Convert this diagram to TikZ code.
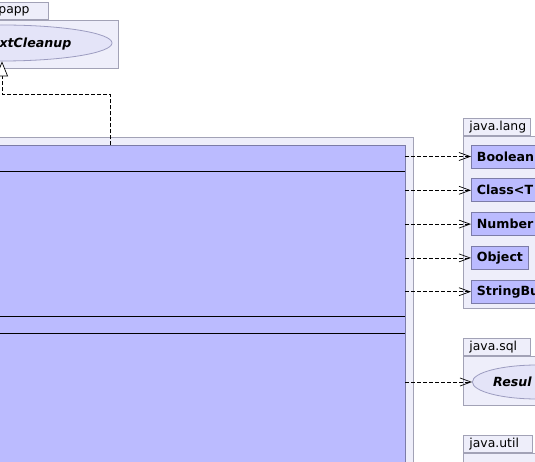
\documentclass[tikz,border=0pt]{standalone}
\usepackage{fontspec}
\setmainfont{DejaVu Sans}
\usetikzlibrary{arrows.meta,positioning,shapes.geometric,calc}

\definecolor{pkgfill}{HTML}{EEEEFA}
\definecolor{pkgline}{HTML}{A2A2B6}
\definecolor{classfill}{HTML}{BBBBFF}
\definecolor{classline}{HTML}{7C7CA8}
\definecolor{ifacefill}{HTML}{E4E4F8}
\definecolor{ifaceline}{HTML}{9C9CC0}

\begin{document}
\begin{tikzpicture}[
  x=1pt, y=-1pt,
  node distance=10pt,
  every node/.style={font=\fontsize{12.4}{14}\selectfont},
  pkgbody/.style={rectangle, draw=pkgline, fill=pkgfill, line width=0.8pt, inner sep=0pt},
  pkgtab/.style={rectangle, draw=pkgline, fill=pkgfill, line width=0.8pt, anchor=south west,
    minimum height=17pt, text width=55pt, align=left, inner xsep=6pt, inner ysep=0pt},
  classbox/.style={rectangle, draw=classline, fill=classfill, line width=0.8pt,
    font=\fontsize{12.6}{14}\selectfont\bfseries, minimum height=23pt, inner xsep=5.5pt, inner ysep=0pt},
  iface/.style={ellipse, draw=ifaceline, fill=ifacefill, line width=0.8pt, inner sep=0pt},
  ifacename/.style={font=\fontsize{12.6}{14}\selectfont\bfseries\itshape, inner sep=0pt},
  dep/.style={-{Straight Barb[length=11pt,width=8pt]}, dash pattern=on 4pt off 2pt, line width=0.7pt},
  real/.style={-{Triangle[length=15pt,width=12pt,fill=white]}, dash pattern=on 4pt off 2pt, line width=0.7pt}
]
\useasboundingbox (0,0) rectangle (535,462);

% package at the top left
\node[pkgbody, anchor=north east, minimum width=260, minimum height=48] (appbody) at (119,20) {};
\node[pkgtab, anchor=south east, text width=32pt, align=right, inner xsep=19pt] (apptab) at (49,20) {papp};
\node[iface, minimum width=220, minimum height=36] (cleanup) at (2,43) {};
\node[ifacename, anchor=base east] (cleanupname) at (71.5,48) {xtCleanup};

% package holding the main class
\node[pkgbody, anchor=north east, minimum width=520, minimum height=400] (srcpkg) at (413.3,136.7) {};
\node[classbox, anchor=north east, minimum width=500, minimum height=400] (mainclass) at (405.3,145.3) {};
\foreach \d in {25.7,170.7,187.7}
  \draw[line width=0.8pt] ($(mainclass.north west)+(0,\d)$) -- ($(mainclass.north east)+(0,\d)$);

% java.lang
\node[pkgbody, anchor=north west, minimum width=120, minimum height=172] (langpkg) at (463,136) {};
\node[pkgtab] (langtab) at (langpkg.north west) {java.lang};
\node[classbox, anchor=west, text width=60pt, align=left] (boolcls) at (471,156.5) {Boolean};
\node[classbox, below=of boolcls.south west, anchor=north west, text width=60pt, align=left] (classcls) {Class<T};
\node[classbox, below=of classcls.south west, anchor=north west, text width=60pt, align=left] (numcls) {Number};
\node[classbox, below=of numcls.south west, anchor=north west] (objcls) {Object};
\node[classbox, below=of objcls.south west, anchor=north west, text width=60pt, align=left] (sbcls) {StringBu};

% java.sql
\node[pkgbody, anchor=north west, minimum width=120, minimum height=49] (sqlpkg) at (463,356) {};
\node[pkgtab] (sqltab) at (sqlpkg.north west) {java.sql};
\node[iface, anchor=west, minimum width=130, minimum height=34] (resultset) at (472,382) {};
\node[ifacename, anchor=base west] (resultname) at (493,386.5) {Resul};

% java.util
\node[pkgbody, anchor=north west, minimum width=120, minimum height=100] (utilpkg) at (463,453) {};
\node[pkgtab, text width=57pt] (utiltab) at (utilpkg.north west) {java.util};

% dependencies
\foreach \dst in {boolcls,classcls,numcls,objcls,sbcls,resultset}
  \draw[dep] (mainclass.east |- \dst.west) -- (\dst.west);

% realization
\coordinate (realfrom) at (110,145.3);
\draw[real] (realfrom) -- ++(0,-51) -| (cleanup.south);
\end{tikzpicture}
\end{document}
